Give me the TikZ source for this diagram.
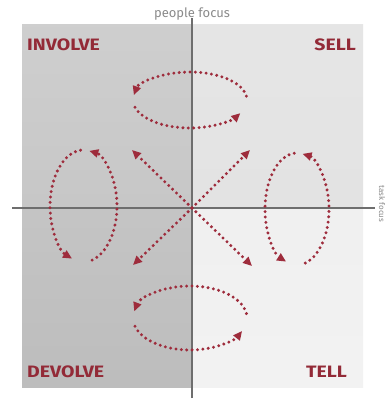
\documentclass[tikz,border=0pt]{standalone}
\usepackage{fontspec}
\setmainfont{Fira Sans}
\usetikzlibrary{arrows.meta,calc}
\definecolor{dotred}{HTML}{9E2C3C}
\definecolor{labred}{HTML}{932A37}
\definecolor{axisgray}{HTML}{6E6E6E}
\tikzset{
  dotline/.style={dotred,line width=3.3pt,line cap=round,dash pattern=on 0pt off 5.4pt},
  dotarrow/.style={dotline,-{Triangle[length=9pt,width=8pt]}},
  quadlabel/.style={font=\fontsize{16.5}{16.5}\selectfont\bfseries,text=labred,inner sep=0pt,xscale=1.18},
  axislabel/.style={font=\fontsize{13}{13}\selectfont,text=axisgray!80,inner sep=0pt},
  sidelabel/.style={font=\fontsize{8}{8}\selectfont,text=axisgray!80,inner sep=0pt}
  ,axisline/.style={axisgray,line width=1.4pt}
}
\begin{document}
\begin{tikzpicture}[x=1pt,y=1pt]
\useasboundingbox (0,0) rectangle (387,400);
\fill[white] (0,0) rectangle (387,400);
% quadrants
\fill[top color=black!19,bottom color=black!22] (22,192) rectangle (192,375);
\fill[top color=black!23,bottom color=black!26] (22,12) rectangle (192,192);
\fill[top color=black!10,bottom color=black!11] (192,192) rectangle (363,375);
\fill[top color=black!6,bottom color=black!5] (192,12) rectangle (363,192);
% axes
\coordinate (C) at (192,192);
\coordinate (vtop) at (192,382);
\coordinate (vbot) at (192,2);
\coordinate (hl) at (12,192);
\coordinate (hr) at (375,192);
\draw[axisline] (vbot) -- (vtop);
\draw[axisline] (hl) -- (hr);
% labels
\node[axislabel] (pf) at (192,386) {people focus};
\node[sidelabel,rotate=-90] (tf) at (382,196) {task focus};
\node[quadlabel,anchor=west] (inv) at (27,355) {INVOLVE};
\node[quadlabel,anchor=east] (sell) at (356,355) {SELL};
\node[quadlabel,anchor=west] (dev) at (27,28) {DEVOLVE};
\node[quadlabel,anchor=east] (tell) at (347,28) {TELL};
% diagonal arrows
\coordinate (UL) at (132,250);
\coordinate (UR) at (250,250);
\coordinate (LL) at (133,135);
\coordinate (LR) at (252,134);
\draw[dotarrow] (C) -- (UL);
\draw[dotarrow] (C) -- (UR);
\draw[dotarrow] (C) -- (LL);
\draw[dotarrow] (C) -- (LR);
% top loop
\coordinate (T) at (190,300);
\draw[dotarrow] ($(T)+(8:57pt and 28pt)$) arc[start angle=8,end angle=170,x radius=57pt,y radius=28pt];
\draw[dotarrow] ($(T)+(195:57pt and 28pt)$) arc[start angle=195,end angle=332,x radius=57pt,y radius=28pt];
% bottom loop
\coordinate (B) at (190,82);
\draw[dotarrow] ($(B)+(8:57pt and 32pt)$) arc[start angle=8,end angle=168,x radius=57pt,y radius=32pt];
\draw[dotarrow] ($(B)+(195:57pt and 32pt)$) arc[start angle=195,end angle=336,x radius=57pt,y radius=32pt];
% left loop
\coordinate (L) at (83.5,194);
\draw[dotarrow] ($(L)+(95:33.5pt and 56pt)$) arc[start angle=95,end angle=250,x radius=33.5pt,y radius=56pt];
\draw[dotarrow] ($(L)+(285:33.5pt and 56pt)$) arc[start angle=285,end angle=440,x radius=33.5pt,y radius=56pt];
% right loop
\coordinate (R) at (297,191);
\draw[dotarrow] ($(R)+(95:32pt and 56pt)$) arc[start angle=95,end angle=250,x radius=32pt,y radius=56pt];
\draw[dotarrow] ($(R)+(285:32pt and 56pt)$) arc[start angle=285,end angle=440,x radius=32pt,y radius=56pt];
\end{tikzpicture}
\end{document}
